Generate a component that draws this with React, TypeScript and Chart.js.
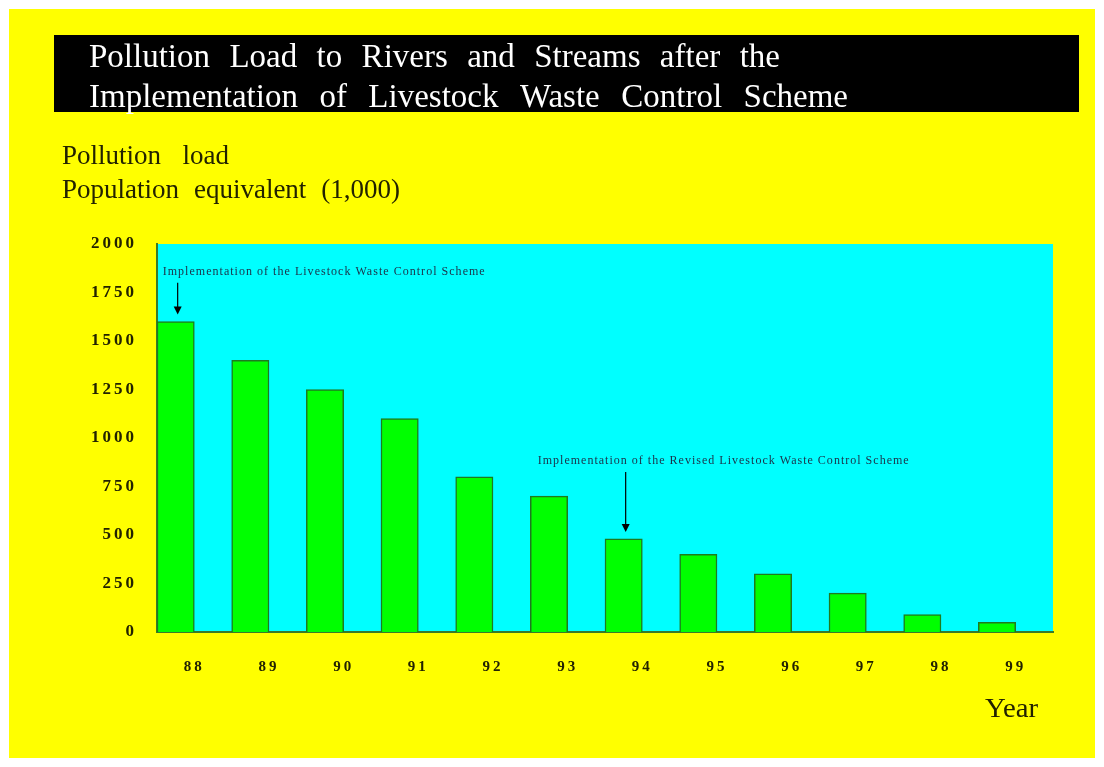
import React, { useEffect, useRef } from "react";
import { Chart, registerables } from "chart.js";

Chart.register(...registerables);

const years = ["88", "89", "90", "91", "92", "93", "94", "95", "96", "97", "98", "99"];
const loadValues = [1600, 1400, 1250, 1100, 800, 700, 480, 400, 300, 200, 90, 50];
const spacerValues = years.map(() => null);
const yMin = 0;
const yMax = 2000;
const yStep = 250;

const titleLines = [
  "Pollution Load to Rivers and Streams after the",
  "Implementation of Livestock Waste Control Scheme",
];
const yTitleLines = ["Pollution load", "Population equivalent (1,000)"];
const xTitle = "Year";

const annotationTexts = [
  "Implementation of the Livestock Waste Control Scheme",
  "Implementation of the Revised Livestock Waste Control Scheme",
];
const annotationBars = [0, 6];
const annotationTextValues = [1860, 885];
const arrowStartValues = [1800, 825];

const SERIF = '"Liberation Serif", "Times New Roman", serif';

function fitText(ctx: CanvasRenderingContext2D, text: string, x: number, y: number, width: number) {
  (ctx as any).letterSpacing = "0px";
  const natural = ctx.measureText(text).width;
  const words = text.split(" ");
  if (natural < width && words.length > 1) {
    const wordsW = words.map((w) => ctx.measureText(w).width);
    const total = wordsW.reduce((a, b) => a + b, 0);
    const gap = (width - total) / (words.length - 1);
    let cx = x;
    words.forEach((w, i) => {
      ctx.fillText(w, cx, y);
      cx += wordsW[i] + gap;
    });
  } else {
    ctx.save();
    ctx.translate(x, y);
    ctx.scale(width / natural, 1);
    ctx.fillText(text, 0, 0);
    ctx.restore();
  }
}

function spacedText(ctx: CanvasRenderingContext2D, text: string, x: number, y: number, width: number) {
  (ctx as any).letterSpacing = "0px";
  const natural = ctx.measureText(text).width;
  if (natural >= width) {
    ctx.save();
    ctx.translate(x, y);
    ctx.scale(width / natural, 1);
    ctx.fillText(text, 0, 0);
    ctx.restore();
    return;
  }
  const sp = (width - natural) / Math.max(1, text.length - 1);
  (ctx as any).letterSpacing = sp + "px";
  ctx.fillText(text, x, y);
  (ctx as any).letterSpacing = "0px";
}

const decorPlugin = {
  id: "decor",
  beforeDraw(chart: any) {
    const { ctx, chartArea } = chart;
    ctx.save();
    ctx.fillStyle = "#00ffff";
    ctx.fillRect(chartArea.left, chartArea.top, chartArea.right - chartArea.left, chartArea.bottom - chartArea.top);
    ctx.restore();
    (ctx as any).letterSpacing = "3px";
  },
  afterDraw(chart: any) {
    const { ctx } = chart;
    (ctx as any).letterSpacing = "0px";
    ctx.save();
    // Title block
    ctx.fillStyle = "#000000";
    ctx.fillRect(45, 26, 1025, 77);
    ctx.fillStyle = "#ffffff";
    ctx.textAlign = "left";
    ctx.textBaseline = "alphabetic";
    ctx.font = `33px ${SERIF}`;
    fitText(ctx, titleLines[0], 80, 58, 691);
    fitText(ctx, titleLines[1], 80, 98, 759);

    // Y axis title
    ctx.fillStyle = "#222200";
    ctx.font = `27px ${SERIF}`;
    fitText(ctx, yTitleLines[0], 53, 155, 167);
    fitText(ctx, yTitleLines[1], 53, 189, 338);

    // X axis title
    ctx.font = `27px ${SERIF}`;
    fitText(ctx, xTitle, 976, 708, 53);

    // Annotations
    const meta = chart.getDatasetMeta(0);
    const yScale = chart.scales.y;
    const textOffsets = [-13, -86];
    const textWidths = [322, 371];
    annotationTexts.forEach((t, k) => {
      const bar = meta.data[annotationBars[k]];
      ctx.fillStyle = "#1c3048";
      ctx.font = `12px ${SERIF}`;
      const ty = yScale.getPixelForValue(annotationTextValues[k]) + 4;
      spacedText(ctx, t, bar.x + textOffsets[k], ty, textWidths[k]);

      const ax = bar.x + 2;
      const y0 = yScale.getPixelForValue(arrowStartValues[k]);
      const tip = bar.y - 7;
      ctx.strokeStyle = "#000000";
      ctx.lineWidth = 1.2;
      ctx.beginPath();
      ctx.moveTo(ax, y0);
      ctx.lineTo(ax, tip - 6);
      ctx.stroke();
      ctx.fillStyle = "#000000";
      ctx.beginPath();
      ctx.moveTo(ax - 4, tip - 8);
      ctx.lineTo(ax + 4, tip - 8);
      ctx.lineTo(ax, tip);
      ctx.closePath();
      ctx.fill();
    });
    ctx.restore();
  },
};

export default function App() {
  const ref = useRef<HTMLCanvasElement | null>(null);
  useEffect(() => {
    if (!ref.current) return;
    const chart = new Chart(ref.current, {
      type: "bar",
      data: {
        labels: years,
        datasets: [
          {
            label: "Pollution load",
            data: loadValues,
            backgroundColor: "#00ff00",
            borderColor: "#1f7a1f",
            borderWidth: 1.5,
            categoryPercentage: 1,
            barPercentage: 1,
          },
          {
            label: "spacer",
            data: spacerValues,
            backgroundColor: "rgba(0,0,0,0)",
            categoryPercentage: 1,
            barPercentage: 1,
          },
        ],
      },
      options: {
        responsive: false,
        animation: false,
        events: [],
        layout: { padding: { left: 0, right: 42, top: 235, bottom: 76 } },
        plugins: {
          legend: { display: false },
          tooltip: { enabled: false },
          title: { display: false },
        },
        scales: {
          x: {
            grid: { display: false, drawTicks: false },
            border: { display: true, color: "#3a7a2a", width: 2 },
            ticks: {
              padding: 26,
              color: "#222200",
              font: { family: SERIF, size: 15, weight: "bold" },
            },
            afterFit: (s: any) => {
              s.height = 50;
            },
          },
          y: {
            min: yMin,
            max: yMax,
            grid: { display: false, drawTicks: false },
            border: { display: true, color: "#3a7a2a", width: 2 },
            ticks: {
              stepSize: yStep,
              padding: 20,
              color: "#222200",
              font: { family: SERIF, size: 17, weight: "bold" },
              callback: (v: any) => String(v),
            },
            afterFit: (s: any) => {
              s.width = 148;
            },
          },
        },
      },
      plugins: [decorPlugin],
    } as any);
    return () => chart.destroy();
  }, []);

  return (
    <div
      style={{
        position: "absolute",
        left: 9,
        top: 9,
        width: 1086,
        height: 749,
        background: "#ffff00",
      }}
    >
      <canvas ref={ref} width={1086} height={749} style={{ display: "block" }} />
    </div>
  );
}
